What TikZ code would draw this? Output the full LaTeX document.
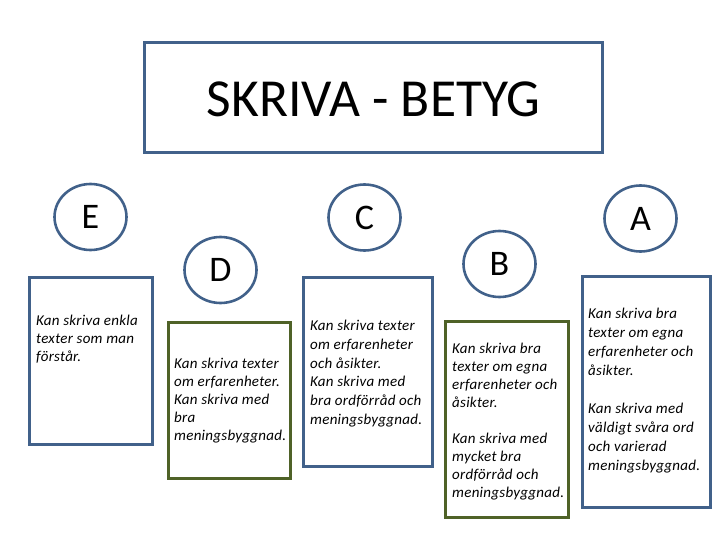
\documentclass[tikz,border=0pt]{standalone}
\usepackage{fontspec}
\setmainfont{Carlito}
\usetikzlibrary{shapes.geometric}
\definecolor{bblue}{HTML}{41618A}
\definecolor{ogreen}{HTML}{4F6228}
\begin{document}
\begin{tikzpicture}[x=1pt,y=-1pt,
  framebox/.style={draw=#1, line width=3pt, fill=white, rectangle, inner sep=0pt},
  grade/.style={draw=bblue, line width=2.6pt, fill=white, ellipse, inner sep=0pt,
    minimum width=72pt, minimum height=66pt, font=\fontsize{36}{40}\selectfont},
  body/.style={anchor=north west, inner sep=0pt, align=left,
    font=\fontsize{15}{#1}\selectfont\itshape\addfontfeature{LetterSpace=1.8}},
  body/.default=18.5
]
\useasboundingbox (0,0) rectangle (720,540);
% title
\node[framebox=bblue, minimum width=458pt, minimum height=110pt] (title) at (373.5,97.5) {};
\node[anchor=base, inner sep=0pt, font=\fontsize{53.5}{60}\selectfont] (titletext) at (373.5,117) {SKRIVA - BETYG};
% boxes
\node[framebox=bblue,  minimum width=123pt, minimum height=167pt] (eBox) at (91,361) {};
\node[framebox=ogreen, minimum width=122pt, minimum height=156pt] (dBox) at (229.5,400.5) {};
\node[framebox=bblue,  minimum width=129pt, minimum height=189pt] (cBox) at (368,372) {};
\node[framebox=ogreen, minimum width=123pt, minimum height=196pt] (bBox) at (507,419.5) {};
\node[framebox=bblue,  minimum width=128pt, minimum height=231pt] (aBox) at (646.5,392) {};
% circles
\node[grade] (E) at (90.5,217) {E};
\node[grade] (D) at (220.5,270) {D};
\node[grade] (C) at (364.5,217.5) {C};
\node[grade] (B) at (499.5,264) {B};
\node[grade] (A) at (640.5,218.5) {A};
% texts
\node[body=18] (eText) at (36,315) {Kan skriva enkla\\texter som man\\förstår.};
\node[body=18] (dText) at (174,358) {Kan skriva texter\\om erfarenheter.\\Kan skriva med\\bra\\meningsbyggnad.};
\node[body=18.7] (cText) at (310,320) {Kan skriva texter\\om erfarenheter\\och åsikter.\\Kan skriva med\\bra ordförråd och\\meningsbyggnad.};
\node[body=18] (bText) at (452,343) {Kan skriva bra\\texter om egna\\erfarenheter och\\åsikter.\\[18pt]Kan skriva med\\mycket bra\\ordförråd och\\meningsbyggnad.};
\node[body=19] (aText) at (588,308) {Kan skriva bra\\texter om egna\\erfarenheter och\\åsikter.\\[19pt]Kan skriva med\\väldigt svåra ord\\och varierad\\meningsbyggnad.};
\end{tikzpicture}
\end{document}
